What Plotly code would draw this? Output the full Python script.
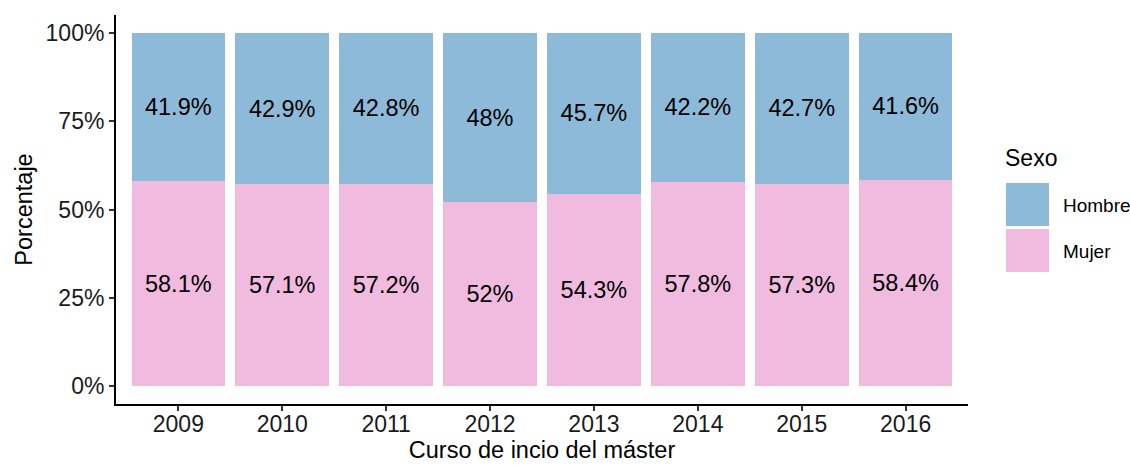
import plotly.graph_objects as go

years = ["2009", "2010", "2011", "2012", "2013", "2014", "2015", "2016"]
mujer = [58.1, 57.1, 57.2, 52.0, 54.3, 57.8, 57.3, 58.4]
hombre = [41.9, 42.9, 42.8, 48.0, 45.7, 42.2, 42.7, 41.6]
mujer_labels = ["58.1%", "57.1%", "57.2%", "52%", "54.3%", "57.8%", "57.3%", "58.4%"]
hombre_labels = ["41.9%", "42.9%", "42.8%", "48%", "45.7%", "42.2%", "42.7%", "41.6%"]
y_ticks = [0, 25, 50, 75, 100]
y_tick_text = ["0%", "25%", "50%", "75%", "100%"]

COL_H = "#8EBAD9"
COL_M = "#F0BBDF"
FONT = "Liberation Sans, Arial, sans-serif"

W, H = 1130, 465
L, R, T, B = 116, 162, 15, 61
PW, PH = W - L - R, H - T - B

def px(x):
    return (x - L) / PW

def py(y):
    return (H - B - y) / PH

fig = go.Figure()
fig.add_trace(go.Bar(
    x=years, y=mujer, name="Mujer", marker=dict(color=COL_M, line=dict(width=0)),
    width=0.9, text=mujer_labels, textposition="inside", insidetextanchor="middle",
    textfont=dict(size=23.5, color="black", family=FONT), showlegend=False,
    hoverinfo="skip",
))
fig.add_trace(go.Bar(
    x=years, y=hombre, name="Hombre", marker=dict(color=COL_H, line=dict(width=0)),
    width=0.9, text=hombre_labels, textposition="inside", insidetextanchor="middle",
    textfont=dict(size=23.5, color="black", family=FONT), showlegend=False,
    hoverinfo="skip",
))

fig.update_layout(
    barmode="stack",
    width=W, height=H,
    margin=dict(l=L, r=R, t=T, b=B, autoexpand=False),
    plot_bgcolor="white", paper_bgcolor="white",
    font=dict(family=FONT, color="black"),
    uniformtext=dict(minsize=10, mode="show"),
    xaxis=dict(
        range=[-0.6, 7.6], showgrid=False, zeroline=False,
        showline=True, linecolor="black", linewidth=2,
        ticks="outside", ticklen=5, tickwidth=1.5, tickcolor="#333333",
        tickfont=dict(size=23, color="#1a1a1a"), ticklabelstandoff=-7,
        title=dict(text="Curso de incio del máster", font=dict(size=23.5), standoff=4),
    ),
    yaxis=dict(
        range=[-5, 105], showgrid=False, zeroline=False,
        showline=True, linecolor="black", linewidth=2,
        tickvals=y_ticks, ticktext=y_tick_text,
        ticks="outside", ticklen=5, tickwidth=1.5, tickcolor="#333333",
        tickfont=dict(size=23, color="#1a1a1a"),
        title=dict(text="Porcentaje", font=dict(size=23.5), standoff=6),
    ),
)

# legend drawn manually to match ggplot's large keys
legend_items = [("Hombre", COL_H, 183), ("Mujer", COL_M, 229)]
for name, col, top in legend_items:
    fig.add_shape(type="rect", xref="paper", yref="paper",
                  x0=px(1006), x1=px(1049), y0=py(top + 43), y1=py(top),
                  fillcolor=col, line=dict(width=0))
    fig.add_annotation(xref="paper", yref="paper", x=px(1061), y=py(top + 22),
                       text=name, showarrow=False, xanchor="left", yanchor="middle",
                       font=dict(size=19, color="black", family=FONT))
fig.add_annotation(xref="paper", yref="paper", x=px(1003), y=py(158),
                   text="Sexo", showarrow=False, xanchor="left", yanchor="middle",
                   font=dict(size=23, color="black", family=FONT))

fig.write_html(
    "out.html",
    config={"displayModeBar": False},
    post_script="document.body.style.margin='0';document.body.style.overflow='hidden';",
)
